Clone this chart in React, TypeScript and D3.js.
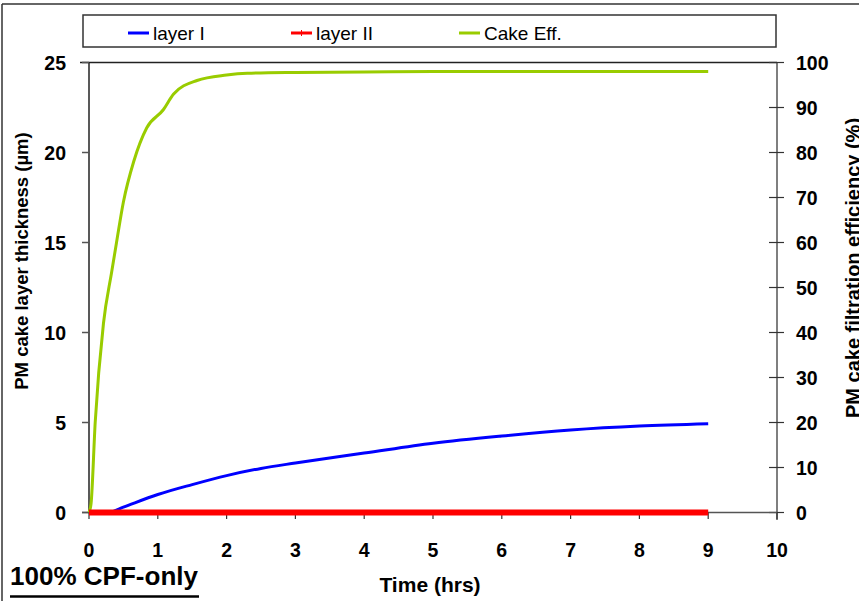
import React from "react";
import * as d3 from "d3";

// time axis (hrs)
const blueTime = [0, 0.3, 0.5, 1, 1.5, 2, 2.5, 3, 4, 5, 6, 7, 8, 9];
const layerI = [0, 0.02, 0.3, 1.0, 1.55, 2.05, 2.45, 2.75, 3.3, 3.85, 4.25, 4.58, 4.8, 4.93];

const redTime = [0, 1, 2, 3, 4, 5, 6, 7, 8, 9];
const layerII = [0, 0, 0, 0, 0, 0, 0, 0, 0, 0];

const greenTime = [0, 0.03, 0.09, 0.21, 0.33, 0.4, 0.5, 0.65, 0.84, 1.08, 1.23, 1.57, 2.0, 2.3, 3.0, 4, 5, 6, 7, 8, 9];
const cakeEff = [0, 2, 20, 42, 53.5, 60, 69, 78, 85.5, 89.5, 93, 96, 97.2, 97.6, 97.8, 97.9, 98, 98, 98, 98, 98];

const xTicks = [0, 1, 2, 3, 4, 5, 6, 7, 8, 9, 10];
const leftTicks = [0, 5, 10, 15, 20, 25];
const rightTicks = [0, 10, 20, 30, 40, 50, 60, 70, 80, 90, 100];

const legendItems = [
  { label: "layer I", color: "#0000ff", x: 128 },
  { label: "layer II", color: "#ff0000", x: 291 },
  { label: "Cake Eff.", color: "#99cc00", x: 459 },
];

const W = 859;
const H = 601;
const font = "Arial, 'Liberation Sans', sans-serif";

export default function App() {
  const x = d3.scaleLinear().domain([0, 10]).range([89, 777]);
  const yL = d3.scaleLinear().domain([0, 25]).range([512.5, 62.5]);
  const yR = d3.scaleLinear().domain([0, 100]).range([512.5, 62.5]);

  const toPts = (xs: number[], ys: number[]) => xs.map((t, i) => [t, ys[i]] as [number, number]);
  const lineL = d3
    .line<[number, number]>()
    .x(d => x(d[0]))
    .y(d => yL(d[1]))
    .curve(d3.curveMonotoneX);
  const lineR = d3
    .line<[number, number]>()
    .x(d => x(d[0]))
    .y(d => yR(d[1]))
    .curve(d3.curveMonotoneX);

  return (
    <svg
      width={W}
      height={H}
      style={{ position: "absolute", left: 0, top: 0, background: "#fff" }}
      fontFamily={font}
    >
      {/* frame */}
      <line x1={2} y1={4} x2={W} y2={4} stroke="#333" strokeWidth={1.5} />
      <line x1={2} y1={4} x2={2} y2={H} stroke="#333" strokeWidth={1.5} />

      {/* legend */}
      <rect x={83} y={15} width={693} height={32} fill="#fff" stroke="#333" strokeWidth={1.5} />
      {legendItems.map(d => (
        <g key={d.label}>
          <line x1={d.x} x2={d.x + 21} y1={33} y2={33} stroke={d.color} strokeWidth={3} />
          {d.label === "layer II" && (
            <line x1={d.x + 10.5} x2={d.x + 10.5} y1={30} y2={36} stroke={d.color} strokeWidth={1} />
          )}
          <text x={d.x + 25} y={40} fontSize={19} fill="#000">
            {d.label}
          </text>
        </g>
      ))}

      {/* plot top border */}
      <line x1={80} x2={777} y1={62.5} y2={62.5} stroke="#222" strokeWidth={1.5} />

      {/* left axis */}
      <line x1={89} x2={89} y1={62.5} y2={512.5} stroke="#222" strokeWidth={1.5} />
      {leftTicks.map(t => (
        <g key={t}>
          <line x1={82} x2={89} y1={yL(t)} y2={yL(t)} stroke="#555" strokeWidth={1.5} />
          <text x={66} y={yL(t) + 7} textAnchor="end" fontSize={19.5} fontWeight="bold">
            {t}
          </text>
        </g>
      ))}

      {/* right axis */}
      <line x1={777} x2={777} y1={62.5} y2={520} stroke="#555" strokeWidth={1.5} />
      {rightTicks.map(t => (
        <g key={t}>
          <line x1={769} x2={784} y1={yR(t)} y2={yR(t)} stroke="#333" strokeWidth={1.2} />
          <text x={796} y={yR(t) + 7} textAnchor="start" fontSize={19.5} fontWeight="bold">
            {t}
          </text>
        </g>
      ))}

      {/* x axis */}
      <line x1={82} x2={777} y1={512.5} y2={512.5} stroke="#555" strokeWidth={1.5} />
      {xTicks.map(t => (
        <g key={t}>
          <line x1={x(t)} x2={x(t)} y1={512.5} y2={519} stroke="#333" strokeWidth={1.2} />
          <text x={x(t)} y={557} textAnchor="middle" fontSize={19.5} fontWeight="bold">
            {t}
          </text>
        </g>
      ))}

      {/* series */}
      <path d={lineR(toPts(greenTime, cakeEff)) || ""} fill="none" stroke="#99cc00" strokeWidth={3} />
      <path d={lineL(toPts(blueTime, layerI)) || ""} fill="none" stroke="#0000ff" strokeWidth={3} />
      <path d={lineL(toPts(redTime, layerII)) || ""} fill="none" stroke="#ff0000" strokeWidth={6} />

      {/* axis titles */}
      <text x={430} y={592} textAnchor="middle" fontSize={21} fontWeight="bold">
        Time (hrs)
      </text>
      <text
        transform="translate(28,261) rotate(-90)"
        textAnchor="middle"
        fontSize={18.5}
        fontWeight="bold"
      >
        PM cake layer thickness (µm)
      </text>
      <text
        transform="translate(860,268) rotate(-90)"
        textAnchor="middle"
        fontSize={20}
        fontWeight="bold"
      >
        PM cake filtration efficiency (%)
      </text>

      {/* annotation */}
      <text
        x={10}
        y={585}
        fontSize={25}
        fontWeight="bold"
        textLength={188}
        lengthAdjust="spacingAndGlyphs"
      >
        100% CPF-only
      </text>
      <line x1={10} x2={199} y1={596.5} y2={596.5} stroke="#000" strokeWidth={2.5} />
    </svg>
  );
}
